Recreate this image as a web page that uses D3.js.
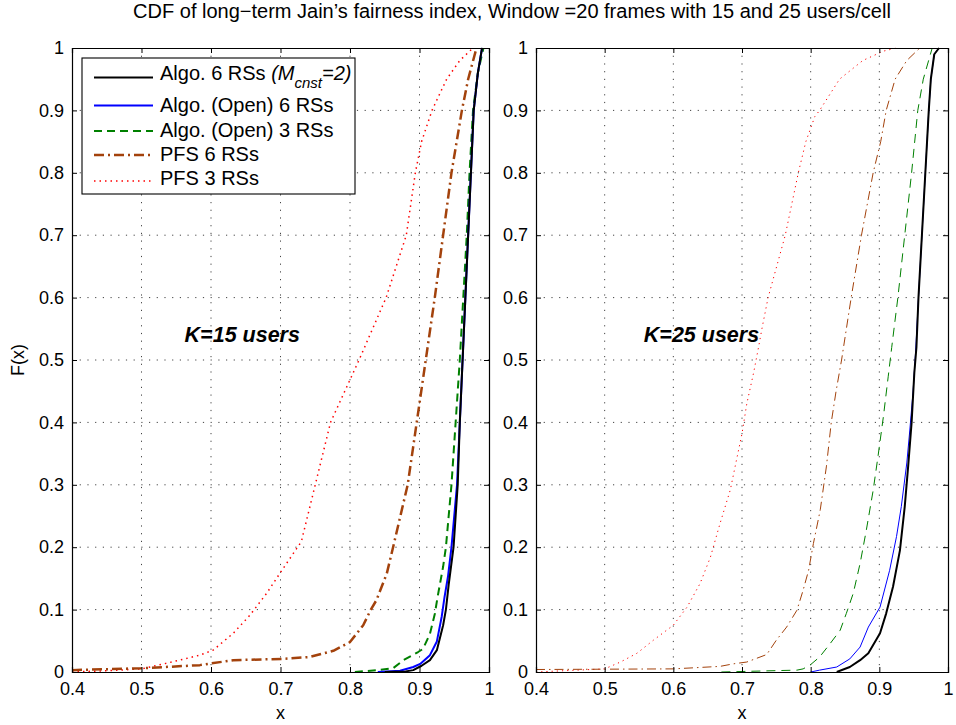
<!DOCTYPE html>
<html>
<head>
<meta charset="utf-8">
<script src="https://cdn.jsdelivr.net/npm/d3@7"></script>
<style>
  body { margin: 0; background: #fff; }
  svg { display: block; font-family: "Liberation Sans", Arial, Helvetica, sans-serif; }
</style>
</head>
<body>
<div id="chart"></div>
<script>
// tick values and labels
const xTicks = [0.4, 0.5, 0.6, 0.7, 0.8, 0.9, 1];
const xTickLabels = ["0.4", "0.5", "0.6", "0.7", "0.8", "0.9", "1"];
const yTicks = [0, 0.1, 0.2, 0.3, 0.4, 0.5, 0.6, 0.7, 0.8, 0.9, 1];
const yTickLabels = ["0", "0.1", "0.2", "0.3", "0.4", "0.5", "0.6", "0.7", "0.8", "0.9", "1"];

const seriesNames = ["Algo. 6 RSs", "Algo. (Open) 6 RSs", "Algo. (Open) 3 RSs", "PFS 6 RSs", "PFS 3 RSs"];
const panelLabels = ["K=15 users", "K=25 users"];

// K=15 users : [x, F(x)]
const k15_algo6 = [[0.85,0],[0.88,0.001],[0.891,0.003],[0.903,0.01],[0.915,0.019],[0.925,0.035],[0.934,0.075],[0.938,0.1],[0.942,0.14],[0.949,0.2],[0.955,0.3],[0.958,0.4],[0.962,0.5],[0.966,0.6],[0.970,0.7],[0.974,0.8],[0.978,0.9],[0.984,0.96],[0.99,1]];
const k15_open6 = [[0.84,0],[0.872,0.002],[0.891,0.008],[0.901,0.013],[0.915,0.027],[0.925,0.049],[0.932,0.089],[0.936,0.12],[0.941,0.153],[0.946,0.2],[0.954,0.3],[0.958,0.4],[0.962,0.5],[0.966,0.6],[0.970,0.7],[0.974,0.8],[0.978,0.9],[0.984,0.96],[0.99,1]];
const k15_open3 = [[0.807,0],[0.841,0.003],[0.862,0.006],[0.877,0.019],[0.898,0.032],[0.905,0.037],[0.915,0.061],[0.922,0.093],[0.926,0.12],[0.934,0.169],[0.938,0.2],[0.946,0.3],[0.952,0.4],[0.958,0.5],[0.963,0.6],[0.968,0.7],[0.972,0.8],[0.977,0.9],[0.984,0.96],[0.992,1]];
const k15_pfs6 = [[0.4,0.003],[0.5,0.006],[0.584,0.011],[0.632,0.019],[0.704,0.021],[0.742,0.024],[0.776,0.034],[0.8,0.048],[0.819,0.075],[0.83,0.1],[0.838,0.115],[0.853,0.158],[0.862,0.2],[0.883,0.3],[0.896,0.4],[0.909,0.5],[0.922,0.6],[0.934,0.7],[0.946,0.8],[0.961,0.9],[0.970,0.95],[0.982,1]];
const k15_pfs3 = [[0.4,0],[0.45,0.002],[0.5,0.005],[0.536,0.014],[0.584,0.027],[0.603,0.035],[0.632,0.062],[0.656,0.091],[0.68,0.126],[0.699,0.158],[0.73,0.209],[0.75,0.3],[0.772,0.4],[0.813,0.5],[0.852,0.6],[0.881,0.7],[0.894,0.8],[0.903,0.85],[0.918,0.9],[0.939,0.95],[0.958,0.98],[0.977,1]];

// K=25 users : [x, F(x)]
const k25_algo6 = [[0.838,0],[0.857,0.008],[0.872,0.019],[0.884,0.03],[0.901,0.062],[0.91,0.094],[0.92,0.137],[0.93,0.195],[0.937,0.265],[0.942,0.33],[0.947,0.4],[0.951,0.48],[0.954,0.52],[0.957,0.6],[0.962,0.7],[0.967,0.8],[0.972,0.9],[0.975,0.95],[0.98,0.99],[0.987,1]];
const k25_open6 = [[0.8,0],[0.813,0.003],[0.838,0.008],[0.857,0.021],[0.872,0.04],[0.884,0.072],[0.901,0.104],[0.915,0.163],[0.925,0.217],[0.932,0.265],[0.94,0.335],[0.944,0.383],[0.949,0.447],[0.953,0.516],[0.957,0.6],[0.962,0.7],[0.967,0.8],[0.972,0.9],[0.975,0.95],[0.98,0.99],[0.987,1]];
const k25_open3 = [[0.67,0],[0.78,0.003],[0.789,0.005],[0.799,0.011],[0.813,0.024],[0.828,0.045],[0.843,0.067],[0.852,0.094],[0.862,0.126],[0.872,0.174],[0.881,0.227],[0.891,0.291],[0.898,0.345],[0.906,0.41],[0.913,0.474],[0.918,0.52],[0.927,0.6],[0.937,0.7],[0.947,0.8],[0.956,0.9],[0.964,0.95],[0.977,1]];
const k25_pfs6 = [[0.4,0.004],[0.6,0.005],[0.668,0.009],[0.687,0.013],[0.707,0.016],[0.736,0.028],[0.75,0.051],[0.765,0.072],[0.78,0.099],[0.789,0.131],[0.797,0.163],[0.804,0.206],[0.814,0.26],[0.823,0.33],[0.83,0.4],[0.837,0.45],[0.845,0.5],[0.859,0.6],[0.874,0.7],[0.891,0.8],[0.902,0.85],[0.91,0.9],[0.923,0.95],[0.94,0.98],[0.959,1]];
const k25_pfs3 = [[0.4,0],[0.5,0.005],[0.523,0.016],[0.547,0.03],[0.571,0.051],[0.6,0.075],[0.62,0.104],[0.639,0.142],[0.654,0.184],[0.668,0.238],[0.683,0.292],[0.692,0.34],[0.7,0.382],[0.707,0.43],[0.717,0.48],[0.724,0.52],[0.729,0.55],[0.738,0.6],[0.763,0.7],[0.782,0.8],[0.793,0.85],[0.806,0.89],[0.813,0.9],[0.842,0.95],[0.876,0.98],[0.906,0.995],[0.925,1]];

const width = 956, height = 725;

// line styles per series: widths and dashes for [left, right] panel
const styles = [
    { color: "#000000", w: [2, 2], dash: [null, null] },
    { color: "#0000ff", w: [2, 1], dash: [null, null] },
    { color: "#008000", w: [2, 1], dash: ["8,5", "9,6"] },
    { color: "#a3420c", w: [2.5, 1], dash: ["10,4,2,4", "9,4,1.5,4"] },
    { color: "#ff0000", w: [1.5, 1], dash: ["1.5,4", "1.2,4"] }
];

const panels = [
    { left: 72, right: 489, series: [k15_algo6, k15_open6, k15_open3, k15_pfs6, k15_pfs3], label: panelLabels[0] },
    { left: 536, right: 948, series: [k25_algo6, k25_open6, k25_open3, k25_pfs6, k25_pfs3], label: panelLabels[1] }
];
const plotTop = 48, plotBottom = 672;

const svg = d3.select("#chart").append("svg")
    .attr("width", width)
    .attr("height", height);

svg.append("text")
    .attr("x", 512)
    .attr("y", 18)
    .attr("text-anchor", "middle")
    .attr("font-size", "20px")
    .text("CDF of long\u2212term Jain\u2019s fairness index, Window =20 frames with 15 and 25 users/cell");

panels.forEach((p, pi) => {
    const x = d3.scaleLinear().domain([0.4, 1]).range([p.left, p.right]);
    const y = d3.scaleLinear().domain([0, 1]).range([plotBottom, plotTop]);

    const g = svg.append("g");

    // grid
    g.append("g").selectAll("line")
        .data(xTicks.slice(1, -1))
        .join("line")
        .attr("x1", d => x(d)).attr("x2", d => x(d))
        .attr("y1", plotTop).attr("y2", plotBottom)
        .attr("stroke", "#444").attr("stroke-width", 1)
        .attr("stroke-dasharray", "1.2,6.5");
    g.append("g").selectAll("line")
        .data(yTicks.slice(1, -1))
        .join("line")
        .attr("x1", p.left).attr("x2", p.right)
        .attr("y1", d => y(d)).attr("y2", d => y(d))
        .attr("stroke", "#444").attr("stroke-width", 1)
        .attr("stroke-dasharray", "1.2,6.5");

    // curves
    const clipId = "clip" + pi;
    svg.append("clipPath").attr("id", clipId)
        .append("rect")
        .attr("x", p.left).attr("y", plotTop - 2)
        .attr("width", p.right - p.left + 1).attr("height", plotBottom - plotTop + 2);

    const line = d3.line().x(d => x(d[0])).y(d => y(d[1]));
    const curves = g.append("g").attr("clip-path", `url(#${clipId})`);
    // back (red) to front (black)
    [4, 3, 2, 1, 0].forEach(si => {
        const st = styles[si];
        curves.append("path")
            .datum(p.series[si])
            .attr("d", line)
            .attr("fill", "none")
            .attr("stroke", st.color)
            .attr("stroke-width", st.w[pi])
            .attr("stroke-dasharray", st.dash[pi])
            .attr("stroke-linejoin", "round");
    });

    // axes, ticks inside (MATLAB style)
    const fmtX = (d, i) => xTickLabels[i];
    const fmtY = (d, i) => yTickLabels[i];

    const ax = g.append("g")
        .attr("transform", `translate(0,${plotBottom})`)
        .call(d3.axisBottom(x).tickValues(xTicks).tickFormat(fmtX).tickSize(-5).tickPadding(10));
    const axTop = g.append("g")
        .attr("transform", `translate(0,${plotTop})`)
        .call(d3.axisTop(x).tickValues(xTicks).tickFormat("").tickSize(-5));
    const ay = g.append("g")
        .attr("transform", `translate(${p.left},0)`)
        .call(d3.axisLeft(y).tickValues(yTicks).tickFormat(fmtY).tickSize(-5).tickPadding(8));
    const ayR = g.append("g")
        .attr("transform", `translate(${p.right},0)`)
        .call(d3.axisRight(y).tickValues(yTicks).tickFormat("").tickSize(-5));

    [ax, axTop, ay, ayR].forEach(a => {
        a.select(".domain").attr("stroke", "#000").attr("stroke-width", 1.2);
        a.selectAll(".tick line").attr("stroke", "#000");
        a.selectAll("text").attr("font-size", "18px").attr("fill", "#000")
            .attr("font-family", "'Liberation Sans', Arial, Helvetica, sans-serif");
    });

    svg.append("text")
        .attr("x", (p.left + p.right) / 2)
        .attr("y", 719)
        .attr("text-anchor", "middle")
        .attr("font-size", "18px")
        .text("x");

    // panel annotation
    svg.append("text")
        .attr("x", x(pi === 0 ? 0.645 : 0.641))
        .attr("y", 342)
        .attr("text-anchor", "middle")
        .attr("font-size", "21.5px")
        .attr("font-weight", "bold")
        .attr("font-style", "italic")
        .text(p.label);
});

svg.append("text")
    .attr("transform", "translate(24,360) rotate(-90)")
    .attr("text-anchor", "middle")
    .attr("font-size", "18px")
    .text("F(x)");

// legend
const legend = svg.append("g");
legend.append("rect")
    .attr("x", 82).attr("y", 58)
    .attr("width", 273).attr("height", 136)
    .attr("fill", "#fff").attr("stroke", "#000").attr("stroke-width", 1.1);

const legendLineY = [77.5, 105.5, 131, 155, 181];
const legendTextY = [80, 112, 137, 161, 185];
seriesNames.forEach((name, i) => {
    const st = styles[i];
    legend.append("line")
        .attr("x1", 94).attr("x2", 153)
        .attr("y1", legendLineY[i]).attr("y2", legendLineY[i])
        .attr("stroke", st.color)
        .attr("stroke-width", st.w[0])
        .attr("stroke-dasharray", st.dash[0]);
    const t = legend.append("text")
        .attr("x", 160).attr("y", legendTextY[i])
        .attr("font-size", "20px");
    t.append("tspan").text(name + " ");
    if (i === 0) {
        t.append("tspan").attr("font-style", "italic").text("(M");
        t.append("tspan").attr("font-style", "italic").attr("font-size", "15px").attr("dy", 8).text("cnst");
        t.append("tspan").attr("font-style", "italic").attr("dy", -8).text("=2)");
    }
});
</script>
</body>
</html>
